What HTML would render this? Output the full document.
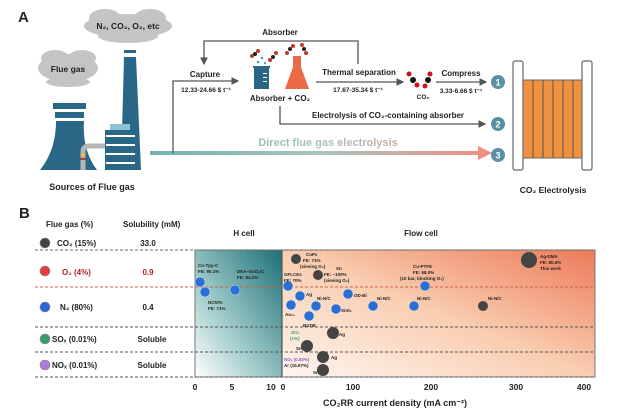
<!DOCTYPE html>
<html><head><meta charset="utf-8"><style>
html,body{margin:0;padding:0;background:#fff;}
svg{display:block;font-family:"Liberation Sans",Arial,sans-serif;font-weight:bold;}
</style></head><body>
<svg width="636" height="413" viewBox="0 0 636 413" xmlns="http://www.w3.org/2000/svg">
<defs>
<linearGradient id="dg" gradientUnits="userSpaceOnUse" x1="150" x2="490" y1="0" y2="0"><stop offset="0" stop-color="#6fb3b3"/><stop offset="0.5" stop-color="#a9c4bd"/><stop offset="1" stop-color="#ef8f80"/></linearGradient>
<linearGradient id="hg" x1="0" y1="1" x2="1" y2="0"><stop offset="0" stop-color="#ffffff"/><stop offset="0.35" stop-color="#a9d1cf"/><stop offset="1" stop-color="#1d6f78"/></linearGradient>
<linearGradient id="fg" x1="0" y1="1" x2="1" y2="0"><stop offset="0" stop-color="#fff6f0"/><stop offset="0.5" stop-color="#f9cdb0"/><stop offset="1" stop-color="#ec7a58"/></linearGradient>
<marker id="ah" markerWidth="6" markerHeight="6" refX="5" refY="3" orient="auto"><path d="M0,0 L6,3 L0,6 z" fill="#555"/></marker>
</defs>
<text x="18" y="22" font-size="15" fill="#222">A</text>
<g fill="#c4c4c4">
<ellipse cx="128" cy="26" rx="44" ry="12"/><ellipse cx="105" cy="18" rx="16" ry="9"/><ellipse cx="150" cy="18" rx="16" ry="9"/><ellipse cx="128" cy="36" rx="30" ry="7"/>
<ellipse cx="68" cy="68" rx="30" ry="14"/><ellipse cx="55" cy="58" rx="14" ry="8"/><ellipse cx="82" cy="58" rx="14" ry="8"/><ellipse cx="68" cy="82" rx="22" ry="5"/>
</g>
<text x="128" y="29" font-size="8.5" text-anchor="middle" fill="#222">N₂, CO₂, O₂, etc</text>
<text x="68" y="72" font-size="8.5" text-anchor="middle" fill="#222">Flue gas</text>
<g fill="#2a6685">
<rect x="124" y="50" width="12" height="3"/>
<polygon points="124,57 136,57 141,170 121,170"/>
<rect x="53" y="103" width="33" height="6"/><rect x="55" y="112" width="29" height="6"/>
<path d="M56,121 L84,121 Q82,150 97,170 L40,170 Q56,150 56,121z"/>
<rect x="105" y="130" width="31" height="40"/>
</g>
<rect x="110" y="124" width="20" height="6" fill="#8bc3d5"/>
<g fill="#fff"><rect x="106" y="135" width="29" height="2"/><rect x="106" y="144" width="29" height="2"/><rect x="106" y="153" width="29" height="2"/><rect x="106" y="162" width="29" height="2"/></g>
<path d="M105,146 L89,146 Q83,146 83,152 L83,170" stroke="#b5b5b5" stroke-width="5" fill="none"/>
<rect x="80.5" y="154" width="5" height="2" fill="#e8c53a"/><rect x="80.5" y="158" width="5" height="2" fill="#c0392b"/>
<text x="92" y="190" font-size="9" text-anchor="middle" fill="#222">Sources of Flue gas</text>
<rect x="150" y="151" width="330" height="4" fill="url(#dg)"/>
<polygon points="478,146 492,153 478,160" fill="#ef8f80"/>
<text x="328" y="146" font-size="11" text-anchor="middle" fill="url(#dg)">Direct flue gas electrolysis</text>
<path d="M173,153 L173,81 L238,81" stroke="#555" stroke-width="1.3" fill="none" marker-end="url(#ah)"/>
<text x="205" y="77" font-size="8" text-anchor="middle" fill="#222">Capture</text>
<text x="206" y="92" font-size="6.5" text-anchor="middle" fill="#222">12.33-24.66 $ t⁻¹</text>
<path d="M358,64 L358,41 L204,41 L204,64" stroke="#555" stroke-width="1.3" fill="none" marker-end="url(#ah)"/>
<text x="280" y="35" font-size="8" text-anchor="middle" fill="#222">Absorber</text>
<rect x="254" y="68" width="15" height="21" fill="#2a6685"/><rect x="253" y="66" width="17" height="2" fill="#2a6685"/>
<g fill="#fff"><rect x="263" y="73" width="4" height="1"/><rect x="263" y="77" width="4" height="1"/><rect x="263" y="81" width="4" height="1"/></g>
<circle cx="258" cy="62" r="1.3" fill="#49a3a8"/><circle cx="262" cy="58" r="1.3" fill="#49a3a8"/><circle cx="265" cy="63" r="1.2" fill="#49a3a8"/>
<path d="M293,56 L301,56 L301,67 L309,89 L285,89 L293,67z" fill="#ea6a47"/>
<g fill="#c0392b"><circle cx="252" cy="56" r="2"/><circle cx="258" cy="51" r="2"/><circle cx="270" cy="60" r="2"/><circle cx="276" cy="53" r="2"/><circle cx="287" cy="53" r="2"/><circle cx="293" cy="46" r="2"/><circle cx="302" cy="45" r="2"/><circle cx="306" cy="53" r="2"/></g>
<g fill="#222"><circle cx="255" cy="54" r="2"/><circle cx="273" cy="57" r="2"/><circle cx="290" cy="49" r="2"/><circle cx="304" cy="49" r="2"/></g>
<text x="280" y="101" font-size="8" text-anchor="middle" fill="#222">Absorber + CO₂</text>
<path d="M280,106 L280,124 L485,124" stroke="#555" stroke-width="1.3" fill="none" marker-end="url(#ah)"/>
<text x="388" y="118" font-size="8" text-anchor="middle" fill="#222">Electrolysis of CO₂-containing absorber</text>
<path d="M316,82 L403,82" stroke="#555" stroke-width="1.3" fill="none" marker-end="url(#ah)"/>
<text x="359" y="75" font-size="8" text-anchor="middle" fill="#222">Thermal separation</text>
<text x="358" y="92" font-size="6.5" text-anchor="middle" fill="#222">17.67-35.34 $ t⁻¹</text>
<g><circle cx="409" cy="74" r="2.5" fill="#d0101a"/><circle cx="413" cy="80" r="3" fill="#111"/><circle cx="417" cy="85" r="2.5" fill="#d0101a"/>
<circle cx="430" cy="74" r="2.5" fill="#d0101a"/><circle cx="428" cy="80" r="3" fill="#111"/><circle cx="425" cy="86" r="2.5" fill="#d0101a"/></g>
<text x="423" y="99" font-size="6.5" text-anchor="middle" fill="#222">CO₂</text>
<path d="M436,82 L486,82" stroke="#555" stroke-width="1.3" fill="none" marker-end="url(#ah)"/>
<text x="461" y="76" font-size="8" text-anchor="middle" fill="#222">Compress</text>
<text x="461" y="93" font-size="6.5" text-anchor="middle" fill="#222">3.33-6.66 $ t⁻¹</text>
<g fill="#5a8fa6"><circle cx="498" cy="82" r="7"/><circle cx="498" cy="124" r="7"/><circle cx="498" cy="155" r="7"/></g>
<g fill="#fff" font-size="9" text-anchor="middle"><text x="498" y="85.5">1</text><text x="498" y="127.5">2</text><text x="498" y="158.5">3</text></g>
<rect x="513" y="61" width="10" height="109" rx="2" fill="#fff" stroke="#666" stroke-width="1.2"/>
<rect x="582" y="61" width="10" height="109" rx="2" fill="#fff" stroke="#666" stroke-width="1.2"/>
<rect x="523" y="80" width="59" height="78" fill="#f0913f" stroke="#666" stroke-width="1"/>
<g stroke="#555" stroke-width="1"><line x1="533" y1="80" x2="533" y2="158"/><line x1="543" y1="80" x2="543" y2="158"/><line x1="553" y1="80" x2="553" y2="158"/><line x1="563" y1="80" x2="563" y2="158"/><line x1="573" y1="80" x2="573" y2="158"/></g>
<text x="553" y="193" font-size="8.5" text-anchor="middle" fill="#222">CO₂ Electrolysis</text>

<text x="19" y="218" font-size="15" fill="#222">B</text>
<g font-size="8" fill="#222">
<text x="46" y="227">Flue gas (%)</text><text x="123" y="227">Solubility (mM)</text>
<text x="57" y="246">CO₂ (15%)</text><text x="148" y="246" text-anchor="middle">33.0</text>
<text x="62" y="275" fill="#b22222">O₂ (4%)</text><text x="148" y="275" text-anchor="middle" fill="#b22222">0.9</text>
<text x="60" y="310">N₂ (80%)</text><text x="148" y="310" text-anchor="middle">0.4</text>
<text x="52" y="342">SOₓ (0.01%)</text><text x="152" y="342" text-anchor="middle">Soluble</text>
<text x="52" y="368">NOₓ (0.01%)</text><text x="152" y="368" text-anchor="middle">Soluble</text>
</g>
<circle cx="45" cy="243" r="5" fill="#444" stroke="#888" stroke-width=".6"/>
<circle cx="45" cy="271" r="5" fill="#e04040" stroke="#888" stroke-width=".6"/>
<circle cx="45" cy="307" r="5" fill="#2a66d6" stroke="#888" stroke-width=".6"/>
<circle cx="45" cy="339" r="5" fill="#3a9a6a" stroke="#888" stroke-width=".6"/>
<circle cx="45" cy="365" r="5" fill="#b07ad8" stroke="#888" stroke-width=".6"/>
<text x="244" y="236" font-size="8" text-anchor="middle" fill="#222">H cell</text>
<text x="421" y="236" font-size="8" text-anchor="middle" fill="#222">Flow cell</text>
<rect x="195" y="250" width="87" height="127" fill="url(#hg)"/>
<rect x="282" y="250" width="313" height="127" fill="url(#fg)"/>
<rect x="195" y="250" width="400" height="127" fill="none" stroke="#777" stroke-width="1"/>
<line x1="282" y1="250" x2="282" y2="377" stroke="#555" stroke-width="1.2"/>
<g stroke-dasharray="3,2" stroke-width="0.9" fill="none">
<line x1="35" y1="250" x2="595" y2="250" stroke="#666"/>
<line x1="35" y1="287" x2="595" y2="287" stroke="#d0604a"/>
<line x1="35" y1="327" x2="595" y2="327" stroke="#555"/>
<line x1="35" y1="352" x2="595" y2="352" stroke="#555"/>
<line x1="35" y1="377" x2="595" y2="377" stroke="#555"/>
</g>
<g font-size="8.5" fill="#222" text-anchor="middle">
<text x="195" y="390">0</text><text x="232" y="390">5</text><text x="271" y="390">10</text><text x="283" y="390">0</text>
<text x="353" y="390">100</text><text x="431" y="390">200</text><text x="516" y="390">300</text><text x="584" y="390">400</text>
<text x="395" y="406" font-size="9">CO₂RR current density (mA cm⁻²)</text>
</g>
<g fill="#2a6fd6" stroke="#fff" stroke-width=".4">
<circle cx="200" cy="282" r="5"/><circle cx="205" cy="292" r="5"/><circle cx="235" cy="290" r="5"/>
<circle cx="288" cy="286" r="5"/><circle cx="300" cy="296" r="5"/><circle cx="291" cy="305" r="5"/><circle cx="316" cy="306" r="5"/>
<circle cx="309" cy="316" r="5"/><circle cx="336" cy="309" r="5"/><circle cx="348" cy="294" r="5"/><circle cx="373" cy="306" r="5"/>
<circle cx="425" cy="286" r="5"/><circle cx="414" cy="306" r="5"/>
</g>
<g fill="#444">
<circle cx="296" cy="259" r="5"/><circle cx="318" cy="275" r="5"/><circle cx="483" cy="306" r="5"/>
<circle cx="333" cy="333" r="6"/><circle cx="307" cy="346" r="6"/><circle cx="323" cy="357" r="6"/><circle cx="323" cy="370" r="6"/>
<circle cx="529" cy="260" r="8"/>
</g>
<g font-size="4.5" fill="#222">
<text x="198" y="267">Co-Tpy-C</text><text x="198" y="273">FE: 90.1%</text>
<text x="237" y="273">DEA–SnOₓ/C</text><text x="237" y="279">FE: 84.2%</text>
<text x="208" y="304">NCNTs</text><text x="208" y="310">FE: 71%</text>
<text x="306" y="256">CoPc</text><text x="303" y="262">FE: 71%</text><text x="300" y="268">(sieving O₂)</text>
<text x="336" y="270">Sn</text><text x="324" y="276">FE: ~100%</text><text x="324" y="282">(sieving O₂)</text>
<text x="284" y="276">GFLCEs</text><text x="284" y="282">FE: 70%</text>
<text x="306" y="296">Ag</text><text x="285" y="316">Au₂₅</text><text x="317" y="300">Ni-N/C</text><text x="303" y="327">BGDE</text>
<text x="341" y="312">SnS₂</text><text x="354" y="297">OD-Bi</text><text x="377" y="300">Ni-N/C</text>
<text x="413" y="268">Cu-PTFE</text><text x="413" y="274">FE: 68.0%</text><text x="400" y="280">(10 bar, blocking O₂)</text>
<text x="417" y="300">Ni-N/C</text><text x="488" y="300">Ni-N/C</text>
<text x="540" y="258">Ag-DMA</text><text x="540" y="264">FE: 80.6%</text><text x="540" y="270">This work</text>
<text x="291" y="334" fill="#3a9a6a">SO₂</text><text x="290" y="340" fill="#3a9a6a">(1%)</text>
<text x="296" y="350">Sn</text><text x="339" y="336">Ag</text><text x="331" y="359">Ag</text>
<text x="284" y="361" fill="#8a5ac8">NOₓ (0.83%)</text><text x="284" y="367">Ar (15.67%)</text><text x="313" y="374">Sn</text>
</g>
</svg>
</body></html>
